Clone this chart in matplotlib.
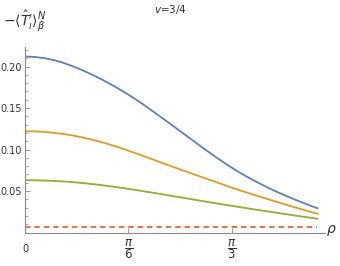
import numpy as np
import matplotlib
matplotlib.use("Agg")
import matplotlib.pyplot as plt
from matplotlib.ticker import MultipleLocator

rho = [0.00, 0.05, 0.10, 0.15, 0.20, 0.25, 0.30, 0.35, 0.40, 0.45, 0.50,
       0.55, 0.60, 0.65, 0.70, 0.75, 0.80, 0.85, 0.90, 0.95, 1.00,
       1.05, 1.10, 1.15, 1.20, 1.25, 1.30, 1.35, 1.40, 1.45, 1.48]
blue = [0.2120, 0.2115, 0.2100, 0.2075, 0.2040, 0.1995, 0.1945, 0.1890, 0.1830, 0.1765, 0.1695,
        0.1620, 0.1540, 0.1455, 0.1370, 0.1283, 0.1195, 0.1108, 0.1020, 0.0935, 0.0853,
        0.0775, 0.0703, 0.0637, 0.0575, 0.0517, 0.0463, 0.0412, 0.0364, 0.0318, 0.0292]
orange = [0.1220, 0.1218, 0.1212, 0.1200, 0.1185, 0.1165, 0.1140, 0.1112, 0.1080, 0.1045, 0.1005,
          0.0963, 0.0920, 0.0877, 0.0833, 0.0790, 0.0747, 0.0705, 0.0663, 0.0622, 0.0580,
          0.0537, 0.0498, 0.0460, 0.0423, 0.0386, 0.0350, 0.0314, 0.0279, 0.0245, 0.0225]
green = [0.0630, 0.0629, 0.0626, 0.0621, 0.0614, 0.0605, 0.0594, 0.0581, 0.0567, 0.0551, 0.0534,
         0.0516, 0.0497, 0.0478, 0.0458, 0.0438, 0.0418, 0.0398, 0.0378, 0.0358, 0.0339,
         0.0320, 0.0301, 0.0282, 0.0264, 0.0246, 0.0228, 0.0210, 0.0193, 0.0176, 0.0166]
red_level = 0.0066

yticks = [0.05, 0.10, 0.15, 0.20]
ytick_labels = ["0.05", "0.10", "0.15", "0.20"]
xticks = [0.0, np.pi / 6, np.pi / 3]
xtick_labels = ["0", r"$\dfrac{\pi}{6}$", r"$\dfrac{\pi}{3}$"]

fig = plt.figure(figsize=(3.4, 2.66), dpi=100)
ax = fig.add_axes([25 / 340, 33.5 / 266, 300 / 340, 185.5 / 266])

ax.plot(rho, blue, color="#5E81B5", lw=1.3)
ax.plot(rho, orange, color="#E19C24", lw=1.3)
ax.plot(rho, green, color="#8FB032", lw=1.3)
ax.plot([rho[0], rho[-1]], [red_level, red_level], color="#EB6235", lw=1.3,
        dashes=(3, 2.2))

ax.set_xlim(0, 1.518)
ax.set_ylim(0, 0.2235)

for s in ["top", "right"]:
    ax.spines[s].set_visible(False)
for s in ["left", "bottom"]:
    ax.spines[s].set_color("#8a8a8a")
    ax.spines[s].set_linewidth(0.8)

ax.set_yticks(yticks)
ax.set_yticklabels(ytick_labels)
ax.yaxis.set_minor_locator(MultipleLocator(0.01))
ax.set_xticks(xticks)
ax.set_xticklabels(xtick_labels)

ax.tick_params(axis="y", which="major", direction="in", length=3.5, width=0.6,
               color="#8a8a8a", labelsize=7, labelcolor="#333333", pad=2)
ax.tick_params(axis="y", which="minor", direction="in", length=2, width=0.5,
               color="#8a8a8a")
ax.tick_params(axis="x", which="major", direction="in", length=3.5, width=0.6,
               color="#8a8a8a", labelsize=8.5, labelcolor="#333333", pad=12)
for lab in ax.get_xticklabels():
    lab.set_va("center")
ax.get_xticklabels()[0].set_fontsize(7)

fig.text(170 / 340, 1 - 9 / 266, r"$v$=3/4", ha="center", va="center",
         fontsize=7.5, color="#333333")
fig.text(3 / 340, 1 - 21 / 266, r"$-\langle\hat{T}^{\prime}_{\imath}\rangle_{\beta}^{N}$",
         ha="left", va="center", fontsize=10, color="#333333")
fig.text(331 / 340, 1 - 230 / 266, r"$\rho$", ha="center", va="center",
         fontsize=10, color="#333333")

fig.savefig("out.png", dpi=100)
